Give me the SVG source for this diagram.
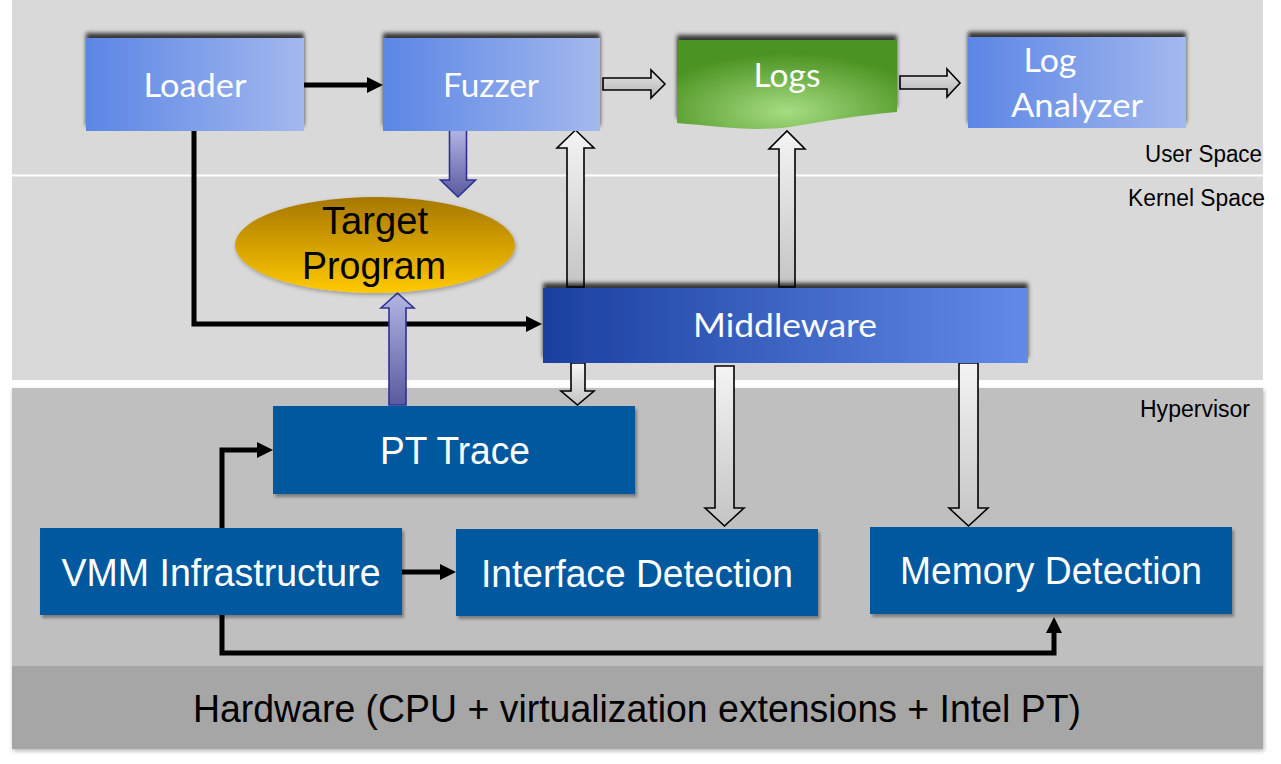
<svg xmlns="http://www.w3.org/2000/svg" width="1281" height="764" viewBox="0 0 1281 764">
<defs>
<style>
.lbl{font-family:Lato,"Liberation Sans",sans-serif;fill:#fff;text-anchor:middle;}
.ar{font-family:"Liberation Sans",Arial,sans-serif;text-anchor:middle;}
.wt{fill:#fff;}
.side{font-family:"Liberation Sans",Arial,sans-serif;font-size:23px;fill:#000;text-anchor:end;}
.blk{fill:none;stroke:#000;stroke-width:5;stroke-linejoin:miter;}
.gar{fill:url(#gGrayV);stroke:#000;stroke-width:1.6;}
.garh{fill:url(#gGrayH);stroke:#000;stroke-width:1.6;}
.par{fill:url(#gPurp);stroke:#2e3192;stroke-width:1.6;}
.dbox{fill:#02589f;filter:url(#shBR);}
</style>
<linearGradient id="gLight" x1="0" y1="0" x2="1" y2="0"><stop offset="0" stop-color="#5b86e5"/><stop offset="1" stop-color="#a3b8ee"/></linearGradient>
<linearGradient id="gMid" x1="0" y1="0" x2="1" y2="0"><stop offset="0" stop-color="#1a409f"/><stop offset="1" stop-color="#628ae8"/></linearGradient>
<linearGradient id="gGold" x1="0" y1="0" x2="0" y2="1"><stop offset="0" stop-color="#a67700"/><stop offset="1" stop-color="#ffc900"/></linearGradient>
<radialGradient id="gGreen" cx="0.5" cy="0.8" r="0.65"><stop offset="0" stop-color="#a6dc82"/><stop offset="1" stop-color="#4b9322"/></radialGradient>
<linearGradient id="gGrayV" x1="0" y1="0" x2="0" y2="1"><stop offset="0" stop-color="#f4f4f4"/><stop offset="1" stop-color="#c4c4c4"/></linearGradient>
<linearGradient id="gGrayH" x1="0" y1="0" x2="0" y2="1"><stop offset="0" stop-color="#e6e6e6"/><stop offset="1" stop-color="#b4b4b4"/></linearGradient>
<linearGradient id="gPurp" x1="0" y1="0" x2="0" y2="1"><stop offset="0" stop-color="#b3b5e3"/><stop offset="1" stop-color="#5a5a9f"/></linearGradient>
<filter id="shTop" x="-10%" y="-30%" width="120%" height="150%"><feGaussianBlur in="SourceAlpha" stdDeviation="2.2"/><feOffset dx="0" dy="-5"/><feComponentTransfer><feFuncA type="linear" slope="0.75"/></feComponentTransfer><feMerge><feMergeNode/><feMergeNode in="SourceGraphic"/></feMerge></filter>
<filter id="shBR" x="-10%" y="-20%" width="120%" height="150%"><feGaussianBlur in="SourceAlpha" stdDeviation="1.8"/><feOffset dx="2" dy="3"/><feComponentTransfer><feFuncA type="linear" slope="0.35"/></feComponentTransfer><feMerge><feMergeNode/><feMergeNode in="SourceGraphic"/></feMerge></filter>
<filter id="shSoft" x="-5%" y="-5%" width="110%" height="115%"><feGaussianBlur in="SourceAlpha" stdDeviation="2"/><feOffset dx="1" dy="2"/><feComponentTransfer><feFuncA type="linear" slope="0.3"/></feComponentTransfer><feMerge><feMergeNode/><feMergeNode in="SourceGraphic"/></feMerge></filter>
<marker id="ah" markerUnits="userSpaceOnUse" markerWidth="18" markerHeight="18" refX="0" refY="8" orient="auto"><path d="M0,0 L16,8 L0,16 z" fill="#000"/></marker>
</defs>
<rect width="1281" height="764" fill="#fff"/>
<g id="layers">
<rect x="12" y="0" width="1251" height="380" fill="#d9d9d9"/>
<rect x="12" y="174.5" width="1251" height="2" fill="#fff"/>
<g filter="url(#shSoft)">
<rect x="12" y="388" width="1251" height="278" fill="#bfbfbf"/>
<rect x="12" y="666" width="1251" height="83" fill="#a6a6a6"/>
</g>
<text class="side" x="1262" y="162" textLength="117" lengthAdjust="spacingAndGlyphs">User Space</text>
<text class="side" x="1265" y="206" textLength="137" lengthAdjust="spacingAndGlyphs">Kernel Space</text>
<text class="side" x="1250" y="417" textLength="110" lengthAdjust="spacingAndGlyphs">Hypervisor</text>
<text class="ar" x="637" y="722" font-size="38" fill="#000" textLength="888" lengthAdjust="spacingAndGlyphs">Hardware (CPU + virtualization extensions + Intel PT)</text>
</g>
<g id="connectors">
<path class="blk" d="M304,85 H367" marker-end="url(#ah)"/>
<path class="blk" d="M194,131 V324 H526" marker-end="url(#ah)"/>
<path class="blk" d="M222,528 V450 H257" marker-end="url(#ah)"/>
<path class="blk" d="M402,572 H440" marker-end="url(#ah)"/>
<path class="blk" d="M222,615 V653 H1054 V633" marker-end="url(#ah)"/>
<path class="par" d="M449.5,129 H466.5 V180 H475.5 L458,197 L440.5,180 H449.5 Z"/>
<path class="par" d="M389,405 V308 H381 L397.5,293 L414,308 H406 V405 Z"/>
<path class="garh" d="M603,78 H651 V70 L665,84 L651,98 V90 H603 Z"/>
<path class="garh" d="M900,76 H947 V69 L960,83 L947,97 V89 H900 Z"/>
<path class="gar" d="M567,287 V148 H557 L575.5,130 L594,148 H584 V287 Z"/>
<path class="gar" d="M779,287 V149 H769 L787,131 L805,149 H795 V287 Z"/>
<path class="gar" d="M571,363 V391 H561 L577.5,405 L594,391 H585 V363 Z"/>
<path class="gar" d="M715,366 V508 H705 L724.5,526 L744,508 H734 V366 Z"/>
<path class="gar" d="M959,363 V508 H949 L968.5,526 L988,508 H978 V363 Z"/>
</g>
<g id="loader">
<rect x="86" y="38" width="218" height="93" fill="url(#gLight)" filter="url(#shTop)"/>
<text class="lbl" x="195" y="97" font-size="33" textLength="103" lengthAdjust="spacingAndGlyphs">Loader</text>
</g>
<g id="fuzzer">
<rect x="383" y="38" width="217" height="93" fill="url(#gLight)" filter="url(#shTop)"/>
<text class="lbl" x="491" y="97" font-size="33" textLength="96" lengthAdjust="spacingAndGlyphs">Fuzzer</text>
</g>
<g id="logs">
<path d="M677,40 H897 V112 C860,115 820,122 790,127 C750,132 715,126 677,123 Z" fill="url(#gGreen)" filter="url(#shTop)"/>
<text class="lbl" x="787" y="87" font-size="33" textLength="67" lengthAdjust="spacingAndGlyphs">Logs</text>
</g>
<g id="log-analyzer">
<rect x="968" y="37" width="218" height="91" fill="url(#gLight)" filter="url(#shTop)"/>
<text class="lbl" x="1050" y="72" font-size="33" textLength="53" lengthAdjust="spacingAndGlyphs">Log</text>
<text class="lbl" x="1077" y="117" font-size="33" textLength="132" lengthAdjust="spacingAndGlyphs">Analyzer</text>
</g>
<g id="target-program">
<ellipse cx="375" cy="245" rx="140" ry="48" fill="url(#gGold)" filter="url(#shSoft)"/>
<text class="ar" x="375" y="234" font-size="39" fill="#000" textLength="106" lengthAdjust="spacingAndGlyphs">Target</text>
<text class="ar" x="374" y="279" font-size="39" fill="#000" textLength="144" lengthAdjust="spacingAndGlyphs">Program</text>
</g>
<g id="middleware">
<rect x="543" y="288" width="485" height="75" fill="url(#gMid)" filter="url(#shTop)"/>
<text class="lbl" x="785" y="337" font-size="33" textLength="184" lengthAdjust="spacingAndGlyphs">Middleware</text>
</g>
<g id="pt-trace">
<rect class="dbox" x="273" y="406" width="362" height="88"/>
<text class="ar wt" x="455" y="464" font-size="38" textLength="150" lengthAdjust="spacingAndGlyphs">PT Trace</text>
</g>
<g id="vmm-infrastructure">
<rect class="dbox" x="40" y="528" width="362" height="87"/>
<text class="ar wt" x="221" y="586" font-size="38" textLength="319" lengthAdjust="spacingAndGlyphs">VMM Infrastructure</text>
</g>
<g id="interface-detection">
<rect class="dbox" x="456" y="529" width="362" height="87"/>
<text class="ar wt" x="637" y="587" font-size="38" textLength="312" lengthAdjust="spacingAndGlyphs">Interface Detection</text>
</g>
<g id="memory-detection">
<rect class="dbox" x="870" y="527" width="362" height="87"/>
<text class="ar wt" x="1051" y="584" font-size="38" textLength="302" lengthAdjust="spacingAndGlyphs">Memory Detection</text>
</g>
</svg>
